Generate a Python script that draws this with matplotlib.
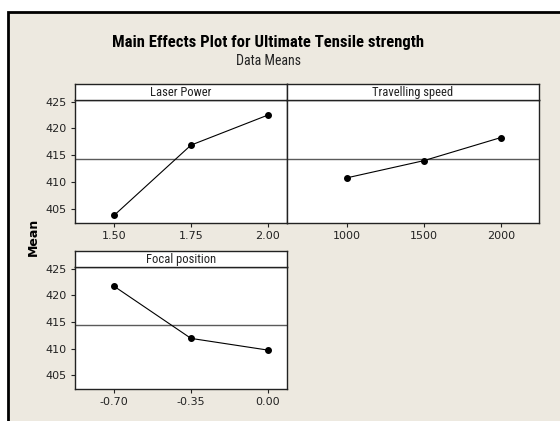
import numpy as np
import matplotlib
matplotlib.use("Agg")
import matplotlib.pyplot as plt
from matplotlib.patches import Rectangle

COND = ['Roboto Condensed', 'DejaVu Sans Condensed', 'Liberation Sans Narrow', 'DejaVu Sans']
plt.rcParams['font.family'] = ['DejaVu Sans']

# ===============================
# data
# ===============================
laser_levels = ["1.50", "1.75", "2.00"]
laser_means = [403.8, 416.9, 422.5]

speed_levels = ["1000", "1500", "2000"]
speed_means = [410.8, 414.0, 418.3]

focal_levels = ["-0.70", "-0.35", "0.00"]
focal_means = [421.7, 411.9, 409.7]

y_ticks = [405, 410, 415, 420, 425]

grand_mean = np.mean(laser_means + speed_means + focal_means)

W, H = 560, 421
BG = "#ede9e0"
INK = "#222222"
fig = plt.figure(figsize=(W / 100, H / 100), dpi=100)
fig.patch.set_facecolor("white")


def px(x0, y0, x1, y1):
    # pixel box -> figure fraction
    return [x0 / W, 1 - y1 / H, (x1 - x0) / W, (y1 - y0) / H]


# outer beige frame
fig.patches.append(Rectangle((8 / W, -0.05), 1.1, 1 - 12 / H + 0.05,
                             transform=fig.transFigure, facecolor=BG,
                             edgecolor="black", linewidth=2, zorder=-5))

fig.text(268 / W, 1 - 43 / H, "Main Effects Plot for Ultimate Tensile strength",
         ha="center", va="center", fontsize=12, fontweight="bold", family=COND)
fig.text(268 / W, 1 - 61 / H, "Data Means", ha="center", va="center",
         fontsize=10, family=COND, color=INK)
fig.text(33 / W, 1 - 237 / H, "Mean", ha="center", va="center", rotation=90,
         fontsize=9, fontweight="bold")


def panel(box, strip, title, levels, means, xlim, yticks_on):
    ax = fig.add_axes(px(*box))
    xs = np.arange(len(levels))
    ax.axhline(grand_mean, color="#5a5a5a", lw=1, zorder=1)
    ax.plot(xs, means, color="black", lw=0.8, marker="o", ms=4, zorder=3)
    ax.set_xlim(*xlim)
    ax.set_ylim(402.4, 425.3)
    ax.set_xticks(xs)
    ax.set_xticklabels(levels)
    ax.set_yticks(y_ticks)
    ax.tick_params(direction="out", length=3, width=0.8, labelsize=8, pad=3,
                   colors=INK)
    if not yticks_on:
        ax.tick_params(axis="y", left=False, labelleft=False)
    for s in ax.spines.values():
        s.set_linewidth(1)
        s.set_color(INK)
    sx = fig.add_axes(px(*strip))
    sx.set_xticks([])
    sx.set_yticks([])
    for s in sx.spines.values():
        s.set_linewidth(1)
        s.set_color(INK)
    sx.text(0.5, 0.45, title, ha="center", va="center", fontsize=9,
            family=COND, color=INK, transform=sx.transAxes)
    return ax


panel((75, 100, 287, 223), (75, 84, 287, 100), "Laser Power",
      laser_levels, laser_means, (-0.506, 2.247), True)
panel((287, 100, 539, 223), (287, 84, 539, 100), "Travelling speed",
      speed_levels, speed_means, (-0.775, 2.497), False)
panel((75, 267, 287, 389), (75, 251, 287, 267), "Focal position",
      focal_levels, focal_means, (-0.506, 2.247), True)

fig.savefig("out.png", dpi=100, facecolor=fig.get_facecolor())
